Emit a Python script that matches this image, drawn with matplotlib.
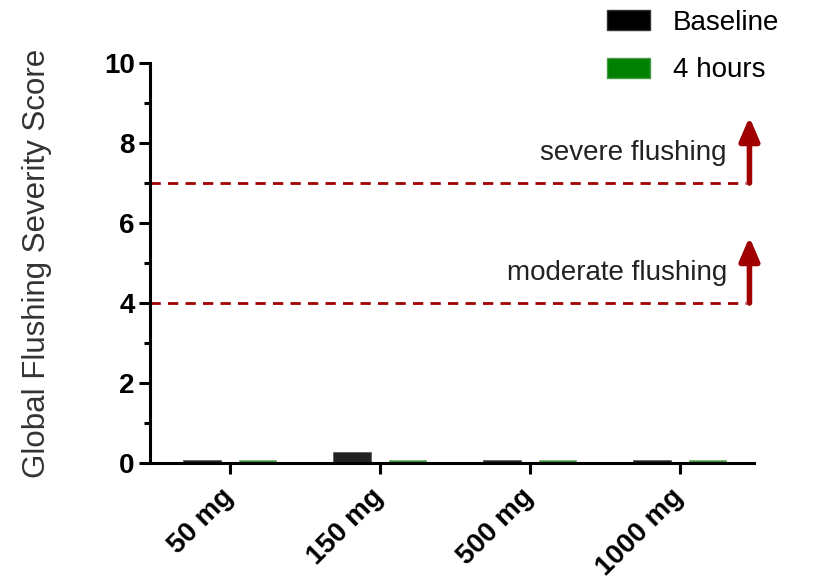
import numpy as np
import matplotlib.pyplot as plt
from matplotlib.patches import Patch

plt.rcParams['font.family'] = ['Liberation Sans', 'DejaVu Sans']

doses = ['50 mg', '150 mg', '500 mg', '1000 mg']
baseline = [0.07, 0.28, 0.07, 0.07]
four_hours = [0.07, 0.07, 0.07, 0.07]
thresholds = [7, 4]
threshold_labels = ['severe flushing', 'moderate flushing']

red = '#a00000'
green = '#008000'

fig = plt.figure(figsize=(8.13, 5.77), dpi=100)
ax = fig.add_axes([0.1845, 0.1976, 0.7425, 0.6932])

x = np.arange(len(doses))
w = 0.25
ax.bar(x - 0.185, baseline, w, color='#222222', edgecolor='#555555', linewidth=0.5)
ax.bar(x + 0.185, four_hours, w, color='#3a9a3a', edgecolor='#6ab06a', linewidth=0.5)

ax.set_xlim(-0.533, 3.493)
ax.set_ylim(0, 10)

xa = 3.465
for t, lab in zip(thresholds, threshold_labels):
    ax.plot([-0.533, xa - 0.02], [t, t], color=red, lw=2, ls=(0, (3.7, 2.6)))
    ax.annotate('', xy=(xa, t + 1.65), xytext=(xa, t),
                arrowprops=dict(arrowstyle='-|>,head_width=0.6,head_length=1.4',
                                color=red, lw=4, shrinkA=0, shrinkB=0))
    ax.text(xa - 0.15, t + 0.75, lab, ha='right', va='center', fontsize=20, color='#222222')

for s in ['top', 'right']:
    ax.spines[s].set_visible(False)
for s in ['left', 'bottom']:
    ax.spines[s].set_linewidth(2.2)
    ax.spines[s].set_zorder(3)

ax.set_yticks([0, 2, 4, 6, 8, 10])
ax.set_yticks([1, 3, 5, 7, 9], minor=True)
ax.tick_params(axis='y', which='major', length=8, width=2.2, labelsize=20, pad=3)
ax.tick_params(axis='y', which='minor', length=4, width=2.2)
ax.tick_params(axis='x', length=8, width=2.2, labelsize=20, pad=14)
ax.set_xticks(x)
ax.set_xticklabels(doses, rotation=45, ha='right', va='center', rotation_mode='anchor')
for lbl in ax.get_xticklabels() + ax.get_yticklabels():
    lbl.set_fontweight('bold')

ax.set_ylabel('Global Flushing Severity Score', fontsize=22.5, color='#333333')
ax.yaxis.set_label_coords(-0.163, 0.5)

handles = [Patch(facecolor='black', edgecolor='#333333'),
           Patch(facecolor=green, edgecolor='#4a9a4a')]
fig.legend(handles, ['Baseline', '4 hours'], loc='upper left', bbox_to_anchor=(607 / 813, 1 - 10 / 577),
           frameon=False, fontsize=20, handlelength=1.55, handleheight=0.72, handletextpad=0.83,
           labelspacing=0.77, borderpad=0, borderaxespad=0)

fig.savefig('out.png', dpi=100)
